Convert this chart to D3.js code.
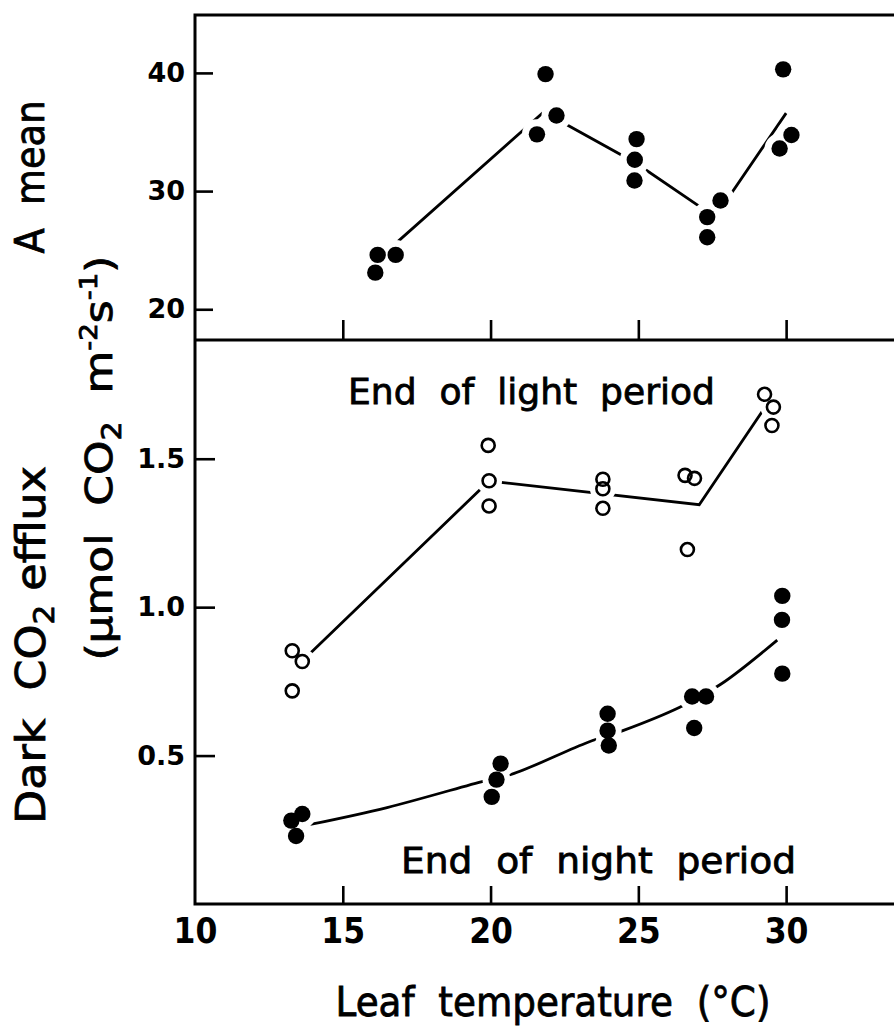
<!DOCTYPE html>
<html>
<head>
<meta charset="utf-8">
<script src="https://cdn.jsdelivr.net/npm/d3@7"></script>
<style>
  html, body { margin: 0; padding: 0; background: #fff; }
  svg { display: block; }
  text { fill: #000; white-space: pre; }
</style>
</head>
<body>
<svg id="chart" width="894" height="1032"></svg>
<script>
// ---------- data ----------
const xTicks = [10, 15, 20, 25, 30];
const topTicks = [20, 30, 40];
const bottomTicks = [0.5, 1.0, 1.5];

// Top panel: A mean (filled dots)
const aMeanTemp = [16.1, 16.18, 16.79, 21.57, 21.86, 22.23, 24.87, 24.88, 24.94, 27.33, 27.33, 27.78, 29.78, 29.9, 30.18];
const aMeanVal  = [23.1, 24.6, 24.6, 34.8, 39.9, 36.4, 30.9, 32.65, 34.4, 26.1, 27.8, 29.2, 33.6, 40.3, 34.75];
const aMeanLineTemp = [16.85, 21.8, 24.9, 27.6, 30.0];
const aMeanLineVal  = [25.7, 36.7, 32.4, 27.8, 36.6];

// Bottom panel: end of light period (open circles)
const lightTemp = [13.29, 13.63, 13.29, 19.92, 19.95, 19.95, 23.8, 23.8, 23.8, 26.58, 26.9, 26.66, 29.27, 29.57, 29.52];
const lightVal  = [0.853, 0.817, 0.718, 1.545, 1.426, 1.341, 1.431, 1.399, 1.333, 1.444, 1.434, 1.194, 1.717, 1.674, 1.612];
const lightLineTemp = [13.9, 19.95, 27.06, 29.4];
const lightLineVal  = [0.845, 1.425, 1.345, 1.69];

// Bottom panel: end of night period (filled dots)
const nightTemp = [13.26, 13.63, 13.42, 20.34, 20.2, 20.04, 23.96, 23.96, 24.0, 26.82, 27.29, 26.89, 29.87, 29.86, 29.87];
const nightVal  = [0.281, 0.303, 0.229, 0.473, 0.419, 0.361, 0.641, 0.584, 0.534, 0.699, 0.699, 0.593, 1.038, 0.957, 0.776];
const nightCurveTemp = [13.9, 16.5, 19.8, 20.8, 23.3, 24.5, 26.4, 27.8, 29.7];
const nightCurveVal  = [0.268, 0.325, 0.415, 0.44, 0.545, 0.585, 0.663, 0.741, 0.889];

// ---------- layout ----------
const svg = d3.select("#chart");
const pLeft = 195, pRight = 894, pTop = 15, pMid = 340, pBottom = 904;
const FONT = "'DejaVu Sans', sans-serif";
const FONTN = "'Liberation Sans Narrow', 'DejaVu Sans Condensed', sans-serif";

const x = d3.scaleLinear().domain([10, 33.65]).range([pLeft, pRight]);
const yTop = d3.scaleLinear().domain([17.4, 44.9]).range([pMid, pTop]);
const yBot = d3.scaleLinear().domain([0, 1.9]).range([pBottom, pMid]);

const zip = (a, b) => a.map((v, i) => [v, b[i]]);

// ---------- frame ----------
const frame = svg.append("g").attr("stroke", "#000").attr("stroke-width", 3).attr("fill", "none");
frame.append("path").attr("d", `M${pRight},${pTop} H${pLeft} V${pBottom} H${pRight}`);
frame.append("path").attr("d", `M${pLeft},${pMid} H${pRight}`);

// ---------- axes ----------
function styleAxis(g) {
  g.select(".domain").remove();
  g.selectAll(".tick line").attr("stroke", "#000").attr("stroke-width", 2.6);
}

svg.append("g").attr("transform", `translate(0,${pMid})`)
  .call(d3.axisBottom(x).tickValues(xTicks.slice(1)).tickSize(-20).tickFormat(""))
  .call(styleAxis);

const gxb = svg.append("g").attr("transform", `translate(0,${pBottom})`)
  .call(d3.axisBottom(x).tickValues(xTicks).tickSize(-18).tickPadding(14).tickFormat(d3.format("d")))
  .call(styleAxis);
gxb.selectAll(".tick text").attr("font-family", FONTN).attr("font-weight", "bold").attr("font-size", 35).attr("fill", "#000");
gxb.selectAll(".tick").filter(d => d === 10).select("line").remove();

const gyt = svg.append("g").attr("transform", `translate(${pLeft},0)`)
  .call(d3.axisLeft(yTop).tickValues(topTicks).tickSize(-18).tickPadding(10).tickFormat(d3.format("d")))
  .call(styleAxis);
gyt.selectAll(".tick text").attr("font-family", FONT).attr("font-weight", "bold").attr("font-size", 27).attr("fill", "#000");

const gyb = svg.append("g").attr("transform", `translate(${pLeft},0)`)
  .call(d3.axisLeft(yBot).tickValues(bottomTicks).tickSize(-20).tickPadding(10).tickFormat(d3.format(".1f")))
  .call(styleAxis);
gyb.selectAll(".tick text").attr("font-family", FONT).attr("font-weight", "bold").attr("font-size", 27).attr("fill", "#000");

// ---------- lines ----------
const lineTop = d3.line().x(d => x(d[0])).y(d => yTop(d[1]));
const lineBot = d3.line().x(d => x(d[0])).y(d => yBot(d[1]));
const curveBot = d3.line().x(d => x(d[0])).y(d => yBot(d[1])).curve(d3.curveCatmullRom.alpha(0.5));

svg.append("path").datum(zip(aMeanLineTemp, aMeanLineVal)).attr("d", lineTop)
  .attr("fill", "none").attr("stroke", "#000").attr("stroke-width", 2.8);
svg.append("path").datum(zip(lightLineTemp, lightLineVal)).attr("d", lineBot)
  .attr("fill", "none").attr("stroke", "#000").attr("stroke-width", 2.8);
svg.append("path").datum(zip(nightCurveTemp, nightCurveVal)).attr("d", curveBot)
  .attr("fill", "none").attr("stroke", "#000").attr("stroke-width", 2.8);

// ---------- halos (gaps in lines around symbols) ----------
const topPts = zip(aMeanTemp, aMeanVal);
const lightPts = zip(lightTemp, lightVal);
const nightPts = zip(nightTemp, nightVal);

const halo = svg.append("g").attr("fill", "#fff");
halo.selectAll(".ht").data(topPts).join("circle").attr("cx", d => x(d[0])).attr("cy", d => yTop(d[1])).attr("r", 15);
halo.selectAll(".hl").data(lightPts).join("circle").attr("cx", d => x(d[0])).attr("cy", d => yBot(d[1])).attr("r", 13);
halo.selectAll(".hn").data(nightPts).join("circle").attr("cx", d => x(d[0])).attr("cy", d => yBot(d[1])).attr("r", 14);

// ---------- symbols ----------
svg.append("g").selectAll("circle").data(topPts).join("circle")
  .attr("cx", d => x(d[0])).attr("cy", d => yTop(d[1])).attr("r", 8.2).attr("fill", "#000");
svg.append("g").selectAll("circle").data(nightPts).join("circle")
  .attr("cx", d => x(d[0])).attr("cy", d => yBot(d[1])).attr("r", 8.2).attr("fill", "#000");
svg.append("g").selectAll("circle").data(lightPts).join("circle")
  .attr("cx", d => x(d[0])).attr("cy", d => yBot(d[1])).attr("r", 6.5)
  .attr("fill", "none").attr("stroke", "#000").attr("stroke-width", 2.6);

// ---------- annotations ----------
function heavy(sel) { return sel.attr("stroke", "#000").attr("stroke-width", 0.8); }

heavy(svg.append("text").attr("x", 348).attr("y", 404)
  .attr("font-family", FONT).attr("font-size", 35)
  .attr("textLength", 367).attr("lengthAdjust", "spacingAndGlyphs")
  .text("End  of  light  period"));
heavy(svg.append("text").attr("x", 401).attr("y", 873)
  .attr("font-family", FONT).attr("font-size", 35)
  .attr("textLength", 395).attr("lengthAdjust", "spacingAndGlyphs")
  .text("End  of  night  period"));

// ---------- axis titles ----------
heavy(svg.append("text").attr("x", 553).attr("y", 1016).attr("text-anchor", "middle")
  .attr("font-family", FONT).attr("font-size", 40)
  .attr("textLength", 435).attr("lengthAdjust", "spacingAndGlyphs")
  .text("Leaf  temperature  (°C)"));

heavy(svg.append("text").attr("transform", "translate(44,177) rotate(-90)").attr("text-anchor", "middle")
  .attr("font-family", FONT).attr("font-size", 40)
  .attr("textLength", 153).attr("lengthAdjust", "spacingAndGlyphs")
  .text("A  mean"));

const t2 = heavy(svg.append("text").attr("transform", "translate(112,458) rotate(-90)").attr("text-anchor", "middle")
  .attr("font-family", FONT).attr("font-size", 38)
  .attr("textLength", 405).attr("lengthAdjust", "spacingAndGlyphs"));
t2.append("tspan").text("(µmol  CO");
t2.append("tspan").attr("font-size", 26).attr("dy", 9).text("2");
t2.append("tspan").attr("dy", -9).text("  m");
t2.append("tspan").attr("font-size", 24).attr("dy", -15).text("-2");
t2.append("tspan").attr("dy", 15).text("s");
t2.append("tspan").attr("font-size", 24).attr("dy", -15).text("-1");
t2.append("tspan").attr("dy", 15).text(")");

const t3 = heavy(svg.append("text").attr("transform", "translate(45,645) rotate(-90)").attr("text-anchor", "middle")
  .attr("font-family", FONT).attr("font-size", 40)
  .attr("textLength", 358).attr("lengthAdjust", "spacingAndGlyphs"));
t3.append("tspan").text("Dark  CO");
t3.append("tspan").attr("font-size", 28).attr("dy", 9).text("2");
t3.append("tspan").attr("dy", -9).text(" efflux");
</script>
</body>
</html>
